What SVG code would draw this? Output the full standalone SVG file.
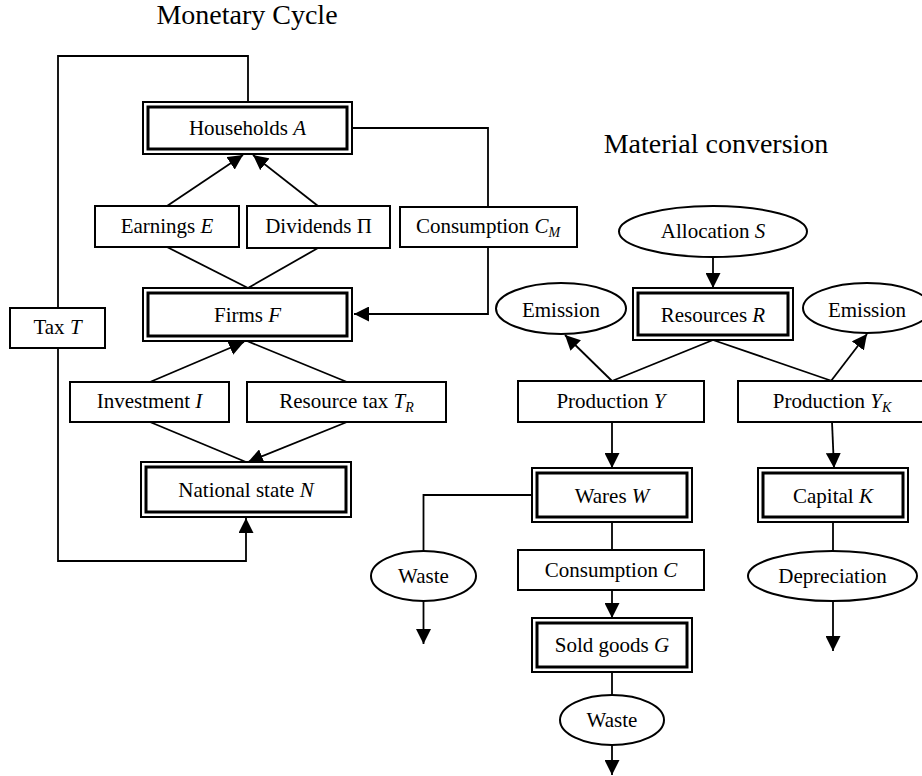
<svg xmlns="http://www.w3.org/2000/svg" width="922" height="776" viewBox="0 0 922 776">
<defs>
<style>
text{font-family:"Liberation Serif","Times New Roman",serif;font-size:21px;fill:#000;text-anchor:middle}
.title{font-size:28px}
.i{font-style:italic}
.sub{font-style:italic;font-size:14px}
.box{fill:#fff;stroke:#000;stroke-width:2}
.outer{fill:#fff;stroke:#000;stroke-width:2}
.inner{fill:none;stroke:#000;stroke-width:3}
.ell{fill:#fff;stroke:#000;stroke-width:2}
.c{fill:none;stroke:#000;stroke-width:1.8}
.a{marker-end:url(#arr)}
</style>
<marker id="arr" markerUnits="userSpaceOnUse" markerWidth="15" markerHeight="15" refX="15" refY="7.5" orient="auto">
<path d="M0,0 L15,7.5 L0,15 z" fill="#000"/>
</marker>
</defs>
<rect width="922" height="776" fill="#fff"/>
<text class="title" x="247" y="24">Monetary Cycle</text>
<text class="title" x="716" y="153">Material conversion</text>

<g id="connectors">
<polyline class="c" points="248,102 248,56 58,56 58,308"/>
<polyline class="c a" points="58,348 58,561 246,561 246,518"/>
<line class="c a" x1="167" y1="206" x2="243" y2="155"/>
<line class="c a" x1="318" y1="206" x2="253" y2="155"/>
<line class="c" x1="167" y1="247" x2="248" y2="288"/>
<line class="c" x1="318" y1="248" x2="248" y2="288"/>
<polyline class="c a" points="352,128 488,128 488,314 354,314"/>
<line class="c a" x1="150" y1="382" x2="244" y2="342"/>
<line class="c" x1="347" y1="382" x2="247" y2="341"/>
<line class="c" x1="150" y1="422" x2="246" y2="462"/>
<line class="c a" x1="347" y1="422" x2="248" y2="462"/>
<line class="c a" x1="713" y1="257" x2="713" y2="288"/>
<line class="c" x1="713" y1="340" x2="612" y2="381"/>
<line class="c" x1="713" y1="340" x2="832" y2="381"/>
<line class="c a" x1="612" y1="381" x2="565" y2="335"/>
<line class="c a" x1="831" y1="381" x2="867" y2="334"/>
<line class="c a" x1="612" y1="422" x2="612" y2="468"/>
<line class="c a" x1="832" y1="422" x2="834" y2="468"/>
<polyline class="c" points="532,495 423.5,495 423.5,551"/>
<line class="c a" x1="423.5" y1="601" x2="423.5" y2="644"/>
<line class="c" x1="612" y1="522" x2="612" y2="550"/>
<line class="c a" x1="612" y1="590" x2="612" y2="618"/>
<line class="c" x1="612" y1="672" x2="612" y2="695"/>
<line class="c a" x1="612" y1="745" x2="612" y2="775"/>
<line class="c" x1="833" y1="522" x2="833" y2="551"/>
<line class="c a" x1="833" y1="601" x2="833" y2="651"/>
</g>

<g id="households">
<rect class="outer" x="143" y="102" width="209" height="52"/>
<rect class="inner" x="148" y="107" width="199" height="42"/>
<text x="247.5" y="135">Households <tspan class="i">A</tspan></text>
</g>
<g id="earnings">
<rect class="box" x="95" y="206" width="144" height="41"/>
<text x="167" y="233">Earnings <tspan class="i">E</tspan></text>
</g>
<g id="dividends">
<rect class="box" x="247" y="206" width="143" height="42"/>
<text x="318.5" y="233">Dividends Π</text>
</g>
<g id="consumption-cm">
<rect class="box" x="400" y="207" width="177" height="40"/>
<text x="488" y="233">Consumption <tspan class="i">C</tspan><tspan class="sub" dy="4">M</tspan></text>
</g>
<g id="firms">
<rect class="outer" x="143" y="288" width="209" height="53"/>
<rect class="inner" x="148" y="293" width="199" height="43"/>
<text x="247.5" y="322">Firms <tspan class="i">F</tspan></text>
</g>
<g id="tax">
<rect class="box" x="10" y="308" width="95" height="40"/>
<text x="57.5" y="334">Tax <tspan class="i">T</tspan></text>
</g>
<g id="investment">
<rect class="box" x="70" y="382" width="159" height="40"/>
<text x="149.5" y="408">Investment <tspan class="i">I</tspan></text>
</g>
<g id="resource-tax">
<rect class="box" x="247" y="382" width="199" height="40"/>
<text x="346.5" y="408">Resource tax <tspan class="i">T</tspan><tspan class="sub" dy="4">R</tspan></text>
</g>
<g id="national-state">
<rect class="outer" x="141" y="462" width="210" height="55"/>
<rect class="inner" x="146" y="467" width="200" height="45"/>
<text x="246" y="497">National state <tspan class="i">N</tspan></text>
</g>

<g id="allocation">
<ellipse class="ell" cx="713" cy="231.5" rx="94" ry="25.5"/>
<text x="713" y="238">Allocation <tspan class="i">S</tspan></text>
</g>
<g id="emission-left">
<ellipse class="ell" cx="561" cy="308.5" rx="65" ry="25.5"/>
<text x="561" y="317">Emission</text>
</g>
<g id="resources">
<rect class="outer" x="633" y="288" width="160" height="52"/>
<rect class="inner" x="638" y="293" width="150" height="42"/>
<text x="713" y="322">Resources <tspan class="i">R</tspan></text>
</g>
<g id="emission-right">
<ellipse class="ell" cx="867" cy="308" rx="64" ry="25"/>
<text x="867" y="317">Emission</text>
</g>
<g id="production-y">
<rect class="box" x="518" y="381" width="186" height="41"/>
<text x="611" y="408">Production <tspan class="i">Y</tspan></text>
</g>
<g id="production-yk">
<rect class="box" x="738" y="381" width="190" height="41"/>
<text x="832" y="408">Production <tspan class="i">Y</tspan><tspan class="sub" dy="4">K</tspan></text>
</g>
<g id="wares">
<rect class="outer" x="532" y="468" width="160" height="54"/>
<rect class="inner" x="537" y="473" width="150" height="44"/>
<text x="612" y="503">Wares <tspan class="i">W</tspan></text>
</g>
<g id="capital">
<rect class="outer" x="758" y="468" width="150" height="54"/>
<rect class="inner" x="763" y="473" width="140" height="44"/>
<text x="833" y="503">Capital <tspan class="i">K</tspan></text>
</g>
<g id="waste-left">
<ellipse class="ell" cx="423.5" cy="576" rx="52.5" ry="25"/>
<text x="423.5" y="583">Waste</text>
</g>
<g id="consumption-c">
<rect class="box" x="518" y="550" width="186" height="40"/>
<text x="611" y="577">Consumption <tspan class="i">C</tspan></text>
</g>
<g id="depreciation">
<ellipse class="ell" cx="832.5" cy="576" rx="84.5" ry="25"/>
<text x="832.5" y="583">Depreciation</text>
</g>
<g id="sold-goods">
<rect class="outer" x="532" y="618" width="160" height="54"/>
<rect class="inner" x="537" y="623" width="150" height="44"/>
<text x="612" y="652">Sold goods <tspan class="i">G</tspan></text>
</g>
<g id="waste-bottom">
<ellipse class="ell" cx="612" cy="720" rx="52" ry="25"/>
<text x="612" y="727">Waste</text>
</g>
</svg>
